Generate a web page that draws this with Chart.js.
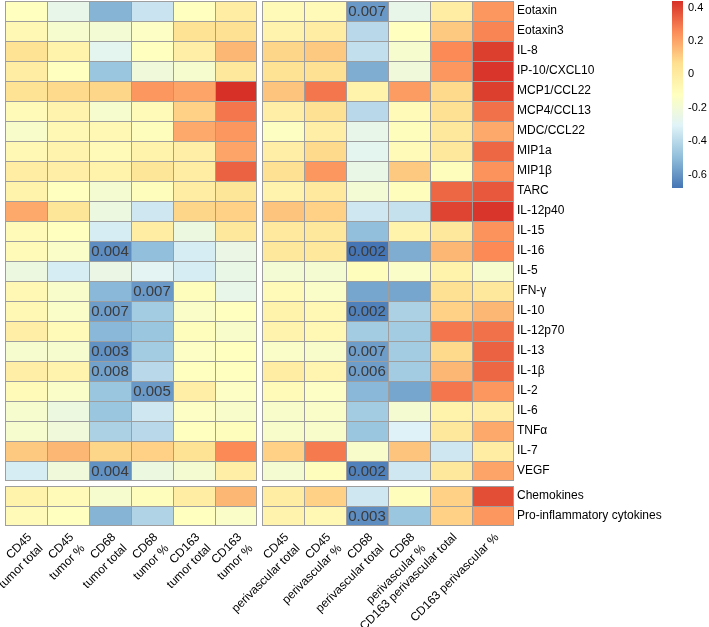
<!DOCTYPE html>
<html>
<head>
<meta charset="utf-8">
<script src="https://cdn.jsdelivr.net/npm/chart.js@4.4.1/dist/chart.umd.min.js"></script>
<style>
  body { margin: 0; background: #fff; }
  #wrap { position: relative; width: 709px; height: 627px; }
  #heat { position: absolute; left: 0; top: 0; }
  #scale { position: absolute; left: 660px; top: 0; }
</style>
</head>
<body>
<div id="wrap">
  <canvas id="heat" width="709" height="627"></canvas>
  <canvas id="scale" width="49" height="200"></canvas>
</div>
<script>
const cytokines = ['Eotaxin', 'Eotaxin3', 'IL-8', 'IP-10/CXCL10', 'MCP1/CCL22', 'MCP4/CCL13',
    'MDC/CCL22', 'MIP1a', 'MIP1β', 'TARC', 'IL-12p40', 'IL-15', 'IL-16', 'IL-5', 'IFN-γ',
    'IL-10', 'IL-12p70', 'IL-13', 'IL-1β', 'IL-2', 'IL-6', 'TNFα', 'IL-7', 'VEGF'];
const groups = ['Chemokines', 'Pro-inflammatory cytokines'];

const tumorColumns = [['CD45', 'tumor total'], ['CD45', 'tumor %'], ['CD68', 'tumor total'],
    ['CD68', 'tumor %'], ['CD163', 'tumor total'], ['CD163', 'tumor %']];
const perivascularColumns = [['CD45', 'perivascular total'], ['CD45', 'perivascular %'],
    ['CD68', 'perivascular total'], ['CD68', 'perivascular %'],
    'CD163 perivascular total', 'CD163 perivascular %'];

// correlation per row (cytokines then groups), one value per column
const tumorCorr = [
    [-0.12, -0.26, -0.52, -0.36, -0.12, -0.01],
    [-0.08, -0.17, -0.19, -0.14, 0.05, 0.06],
    [0.05, -0.04, -0.28, -0.12, -0.02, 0.16],
    [-0.01, -0.12, -0.47, -0.21, -0.17, 0.02],
    [0.05, 0.08, 0.09, 0.23, 0.20, 0.44],
    [-0.09, -0.05, -0.17, -0.09, 0.10, 0.30],
    [-0.16, -0.08, -0.08, -0.11, 0.19, 0.23],
    [-0.08, -0.05, -0.09, -0.04, -0.02, 0.20],
    [-0.01, -0.02, -0.04, 0.03, -0.01, 0.34],
    [-0.04, -0.12, -0.18, -0.11, -0.01, 0.03],
    [0.19, 0.03, -0.23, -0.35, 0.09, 0.10],
    [-0.09, -0.12, -0.33, -0.01, -0.23, 0.02],
    [-0.09, -0.15, -0.62, -0.49, -0.33, -0.24],
    [-0.23, -0.33, -0.24, -0.29, -0.33, -0.25],
    [-0.08, -0.16, -0.51, -0.59, -0.11, -0.26],
    [-0.08, -0.15, -0.58, -0.45, -0.15, -0.12],
    [-0.02, -0.09, -0.51, -0.47, -0.11, -0.16],
    [-0.17, -0.17, -0.61, -0.45, -0.14, -0.12],
    [-0.02, -0.05, -0.57, -0.40, -0.12, -0.12],
    [-0.09, -0.15, -0.47, -0.59, -0.02, -0.14],
    [-0.17, -0.23, -0.47, -0.35, -0.14, -0.16],
    [-0.17, -0.21, -0.43, -0.40, -0.12, -0.11],
    [0.12, 0.16, 0.09, 0.10, 0.05, 0.26],
    [-0.33, -0.21, -0.61, -0.23, -0.18, -0.02],
    [-0.04, -0.09, -0.17, -0.11, -0.01, 0.16],
    [-0.09, -0.12, -0.52, -0.42, -0.12, -0.15]
];
const perivascularCorr = [
    [-0.09, -0.09, -0.59, -0.26, -0.01, 0.23],
    [-0.05, -0.01, -0.40, -0.12, 0.12, 0.27],
    [0.09, 0.12, -0.38, -0.17, 0.26, 0.41],
    [0.05, 0.06, -0.54, -0.21, 0.23, 0.43],
    [0.13, 0.30, -0.04, 0.22, 0.08, 0.41],
    [-0.02, 0.06, -0.40, -0.09, 0.06, 0.31],
    [-0.13, -0.02, -0.26, -0.11, 0.02, 0.19],
    [-0.02, 0.08, -0.28, -0.09, 0.02, 0.33],
    [0.06, 0.23, -0.25, 0.12, -0.11, 0.24],
    [-0.05, 0.01, -0.19, -0.11, 0.33, 0.36],
    [0.13, 0.10, -0.35, -0.37, 0.40, 0.43],
    [0.01, 0.02, -0.49, -0.04, 0.02, 0.24],
    [0.02, 0.02, -0.68, -0.54, 0.16, 0.26],
    [-0.19, -0.18, -0.11, -0.15, -0.04, -0.17],
    [-0.09, -0.15, -0.56, -0.56, 0.06, 0.02],
    [-0.04, -0.08, -0.65, -0.43, 0.10, 0.16],
    [-0.05, -0.08, -0.45, -0.45, 0.30, 0.31],
    [-0.15, -0.16, -0.58, -0.45, 0.08, 0.34],
    [-0.01, -0.06, -0.58, -0.45, 0.16, 0.33],
    [-0.09, -0.14, -0.51, -0.56, 0.30, 0.23],
    [-0.16, -0.15, -0.45, -0.18, -0.04, -0.02],
    [-0.16, -0.16, -0.47, -0.31, 0.02, 0.19],
    [0.10, 0.29, -0.16, 0.13, -0.35, -0.01],
    [-0.18, -0.11, -0.65, -0.35, 0.02, 0.20],
    [-0.01, 0.10, -0.35, -0.11, 0.10, 0.38],
    [-0.05, -0.08, -0.62, -0.47, 0.10, 0.23]
];

// [row, column (0-11), p value shown in the cell]
const pValueCells = [
    [0, 8, '0.007'],
    [12, 2, '0.004'], [12, 8, '0.002'],
    [14, 3, '0.007'],
    [15, 2, '0.007'], [15, 8, '0.002'],
    [17, 2, '0.003'], [17, 8, '0.007'],
    [18, 2, '0.008'], [18, 8, '0.006'],
    [19, 3, '0.005'],
    [23, 2, '0.004'], [23, 8, '0.002'],
    [25, 8, '0.003']
];

const legendTicks = [0.4, 0.2, 0, -0.2, -0.4, -0.6];
const legendMin = -0.68;
const legendMax = 0.44;
const palette = ['#4575B4', '#91BFDB', '#E0F3F8', '#FFFFBF', '#FEE090', '#FC8D59', '#D73027'];

Chart.defaults.font.family = '"Liberation Sans", Arial, sans-serif';
Chart.defaults.font.size = 12;
Chart.defaults.color = '#000';

function hexToRgb(h) {
    return [1, 3, 5].map(i => parseInt(h.substr(i, 2), 16));
}
function colorFor(v) {
    let t = (v - legendMin) / (legendMax - legendMin);
    t = Math.max(0, Math.min(1, t)) * (palette.length - 1);
    const i = Math.min(palette.length - 2, Math.floor(t));
    const f = t - i;
    const a = hexToRgb(palette[i]), b = hexToRgb(palette[i + 1]);
    const c = a.map((x, k) => Math.round(x + (b[k] - x) * f));
    return `rgb(${c[0]},${c[1]},${c[2]})`;
}

const rowLabels = cytokines.concat(groups);
const columnLabels = tumorColumns.concat(perivascularColumns);
const panelGap = 5 / 42;   // white gap between the two panels, in columns
const blockGap = 0.25;     // white gap above the summary rows, in rows

const rowTop = r => r < cytokines.length ? r : r + blockGap;
const colCenter = c => c + 0.5 + (c >= tumorColumns.length ? panelGap : 0);
const nRows = rowLabels.length;
const nCols = columnLabels.length;

const cells = [];
rowLabels.forEach((name, r) => {
    columnLabels.forEach((col, c) => {
        const v = c < 6 ? tumorCorr[r][c] : perivascularCorr[r][c - 6];
        const hit = pValueCells.find(p => p[0] === r && p[1] === c);
        cells.push({ x: colCenter(c), y: [rowTop(r), rowTop(r) + 1], v, row: r, col: c, p: hit ? hit[2] : '' });
    });
});

const pValueText = {
    id: 'pValueText',
    afterDatasetsDraw(chart) {
        const meta = chart.getDatasetMeta(0);
        const ctx = chart.ctx;
        ctx.save();
        ctx.font = '15px "Liberation Sans", Arial, sans-serif';
        ctx.fillStyle = '#3a3a3a';
        ctx.textAlign = 'center';
        ctx.textBaseline = 'middle';
        meta.data.forEach((bar, i) => {
            const cell = chart.data.datasets[0].data[i];
            if (!cell.p) return;
            const pt = bar.getCenterPoint();
            ctx.fillText(cell.p, pt.x, pt.y + 1);
        });
        ctx.restore();
    }
};

function noPadding(scale) {
    scale.paddingLeft = 0;
    scale.paddingRight = 0;
    scale.paddingTop = 0;
    scale.paddingBottom = 0;
}

new Chart(document.getElementById('heat'), {
    type: 'bar',
    data: {
        datasets: [{
            data: cells,
            backgroundColor: ctx => colorFor(ctx.raw.v),
            borderColor: '#9e9e9e',
            borderWidth: ctx => {
                const cell = ctx.raw;
                const lastCol = cell.col === 5 || cell.col === nCols - 1;
                const lastRow = cell.row === cytokines.length - 1 || cell.row === nRows - 1;
                return { top: 1, left: 1, right: lastCol ? 1 : 0, bottom: lastRow ? 1 : 0 };
            },
            borderSkipped: false,
            inflateAmount: 0,
            categoryPercentage: 1,
            barPercentage: 1
        }]
    },
    options: {
        responsive: false,
        animation: false,
        layout: { padding: { left: 5, top: 1, right: 0, bottom: 0 }, autoPadding: false },
        plugins: { legend: { display: false }, tooltip: { enabled: false } },
        scales: {
            x: {
                type: 'linear',
                offset: false,
                min: 0,
                max: nCols + panelGap,
                grid: { display: false, drawTicks: false, offset: false },
                border: { display: false },
                afterBuildTicks: s => { s.ticks = columnLabels.map((l, c) => ({ value: colCenter(c) })); },
                afterFit: s => { s.height = 101; noPadding(s); },
                ticks: {
                    autoSkip: false,
                    minRotation: 45,
                    maxRotation: 45,
                    padding: 4,
                    labelOffset: 4,
                    font: { size: 12, lineHeight: 1.3 },
                    callback: (v, i) => columnLabels[i]
                }
            },
            y: {
                type: 'linear',
                reverse: true,
                position: 'right',
                min: 0,
                max: nRows + blockGap,
                grid: { display: false, drawTicks: false },
                border: { display: false },
                afterBuildTicks: s => { s.ticks = rowLabels.map((l, r) => ({ value: rowTop(r) + 0.5 })); },
                afterFit: s => { s.width = 195; noPadding(s); },
                ticks: {
                    autoSkip: false,
                    padding: 3,
                    font: { size: 12 },
                    callback: (v, i) => rowLabels[i]
                }
            }
        }
    },
    plugins: [pValueText]
});

new Chart(document.getElementById('scale'), {
    type: 'bar',
    data: {
        labels: [''],
        datasets: [{
            data: [[legendMin, legendMax]],
            backgroundColor: ctx => {
                const area = ctx.chart.chartArea;
                if (!area) return palette[3];
                const g = ctx.chart.ctx.createLinearGradient(0, area.bottom, 0, area.top);
                palette.forEach((c, i) => g.addColorStop(i / (palette.length - 1), c));
                return g;
            },
            borderWidth: 0,
            inflateAmount: 0,
            categoryPercentage: 1,
            barPercentage: 1
        }]
    },
    options: {
        responsive: false,
        animation: false,
        layout: { padding: { left: 12, top: 1, right: 0, bottom: 12 }, autoPadding: false },
        plugins: { legend: { display: false }, tooltip: { enabled: false } },
        scales: {
            x: { display: false },
            y: {
                position: 'right',
                min: legendMin,
                max: legendMax,
                grid: { display: false, drawTicks: false },
                border: { display: false },
                afterBuildTicks: s => { s.ticks = legendTicks.map(v => ({ value: v })); },
                afterFit: s => { s.width = 26; noPadding(s); },
                ticks: { padding: 5, font: { size: 11 }, callback: v => String(v) }
            }
        }
    }
});
</script>
</body>
</html>
